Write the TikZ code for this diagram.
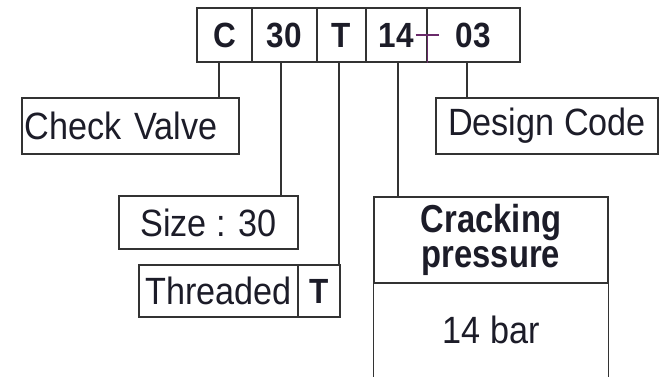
\documentclass[tikz,border=0pt]{standalone}
\usepackage{fontspec}
\setmainfont[FakeStretch=0.9]{Liberation Sans}
\newfontfamily\narrowsans[FakeStretch=0.84]{Liberation Sans}
\usepackage{xcolor}
\usetikzlibrary{positioning, arrows.meta}

\definecolor{inkc}{HTML}{1C1C28}
\definecolor{linec}{HTML}{333333}
\definecolor{hyphc}{HTML}{6A2A6A}

\begin{document}
\begin{tikzpicture}[x=0.5pt, y=-0.5pt, line width=0.6pt,
  cell/.style={draw=linec, rectangle, inner sep=0pt, minimum height=27pt,
    text=inkc, font=\fontsize{17.5}{19}\selectfont\bfseries},
  label/.style={draw=linec, rectangle, inner sep=0pt, minimum height=28pt,
    text=inkc, font=\fontsize{19}{21}\selectfont},
  link/.style={draw=linec}]
  \useasboundingbox (0,0) rectangle (662,376);

  % Define blocks
  \node [cell, minimum width=27.5pt] (cC) at (224.5,35) {C};
  \node [cell, minimum width=32.5pt] (c30) at (284.5,35) {30};
  \node [cell, minimum width=24.5pt] (cT) at (341.5,35) {T};
  \node [cell, minimum width=30.5pt] (c14) at (396.5,35) {14};
  \node [cell, minimum width=46.5pt] (c03) at (473.5,35) {03};

  \node [label, text width=105.5pt, inner xsep=1.5pt, align=left] (chk) at (130.5,126) {Check Valve};
  \node [label, minimum width=111pt] (dsg) at (547,126) {Design Code};
  \node [label, minimum width=89.5pt, minimum height=26.5pt] (siz) at (208.5,222.5) {Size : 30};
  \node [label, minimum width=79.5pt, minimum height=26pt] (thr) at (218.5,291) {Threaded};
  \node [label, minimum width=21pt, minimum height=26pt, font=\fontsize{17.5}{19}\selectfont\bfseries] (thT) at (319,291) {T};
  \node [label, minimum width=117pt, minimum height=43pt, align=center,
    font=\fontsize{19.5}{17.5}\selectfont\narrowsans\bfseries] (crk) at (491,240) {Cracking\\pressure};
  \node [label, draw=none, minimum width=117pt, minimum height=47pt] (bar) at (491,330) {14 bar};

  % Open bottom of the pressure box
  \draw [link] (crk.south west) -- (bar.south west);
  \draw [link] (crk.south east) -- (bar.south east);

  % Hyphen between 14 and 03
  \draw [hyphc] (c14.east) -- (c14.south east);
  \draw [hyphc] ([xshift=-6pt]c14.east) -- ([xshift=5.5pt]c14.east);

  % Connect code cells with labels
  \coordinate (aC) at ([xshift=-2.75pt]cC.south);
  \coordinate (a30) at ([xshift=-1.75pt]c30.south);
  \coordinate (aT) at ([xshift=-1.25pt]cT.south);
  \coordinate (a14) at ([xshift=0.75pt]c14.south);
  \coordinate (a03) at ([xshift=-3.25pt]c03.south);
  \draw [link] (aC) -- (aC |- chk.north);
  \draw [link] (a30) -- (a30 |- siz.north);
  \draw [link] (aT) -- (aT |- thT.north);
  \draw [link] (a14) -- (a14 |- crk.north);
  \draw [link] (a03) -- (a03 |- dsg.north);
\end{tikzpicture}
\end{document}
